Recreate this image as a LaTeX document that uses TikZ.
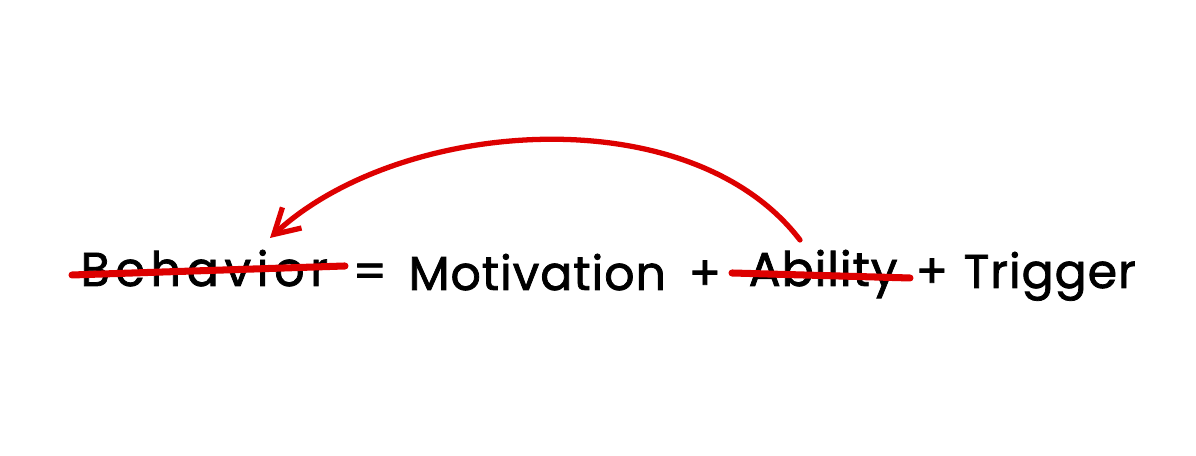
\documentclass[tikz,border=0pt]{standalone}
\usepackage{fontspec}
\newfontfamily\handfont[LetterSpace=2,FakeBold=1.6]{Poppins}
\usepackage{xcolor}
\usetikzlibrary{arrows.meta,positioning,calc}
\definecolor{ink}   {HTML}{000000}
\definecolor{marker}{HTML}{DD0000}

\begin{document}
\begin{tikzpicture}[x=0.01cm,y=-0.01cm,
    word/.style={font=\handfont\fontsize{13.5}{16}\selectfont, color=ink, anchor=base west, inner sep=0pt},
    strike/.style={draw=marker, line width=2pt, line cap=round}]
  \useasboundingbox (0,0) rectangle (1196,456);
  % the equation, word by word
  \node[word] (behavior)   at (80,286)  {\addfontfeature{LetterSpace=12}Behavior};
  \node[word] (eq)         at (352,288) {=};
  \node[word] (motivation) at (408,290) {Motivation};
  \node[word] (plus1)      at (688,290) {+};
  \node[word] (ability)    at (748,286) {Ability};
  \node[word] (plus2)      at (915,288) {+};
  \node[word] (trigger)    at (963,288) {Trigger};
  % crossed out terms
  \coordinate (bL) at (72,275);  \coordinate (bR) at (345,266);
  \coordinate (aL) at (732,273); \coordinate (aR) at (910,278);
  \draw[strike] (bL) -- (bR);
  \draw[strike] (aL) -- (aR);
  % ability feeds back into behavior
  \coordinate (from) at (800,240);
  \coordinate (to)   at (270,238);
  \draw[marker, line width=1.5pt, line cap=round,
        -{Straight Barb[length=7pt,width=8pt,line width=1.5pt]}]
    (from) .. controls (690,96) and (400,118) .. (to);
\end{tikzpicture}
\end{document}
